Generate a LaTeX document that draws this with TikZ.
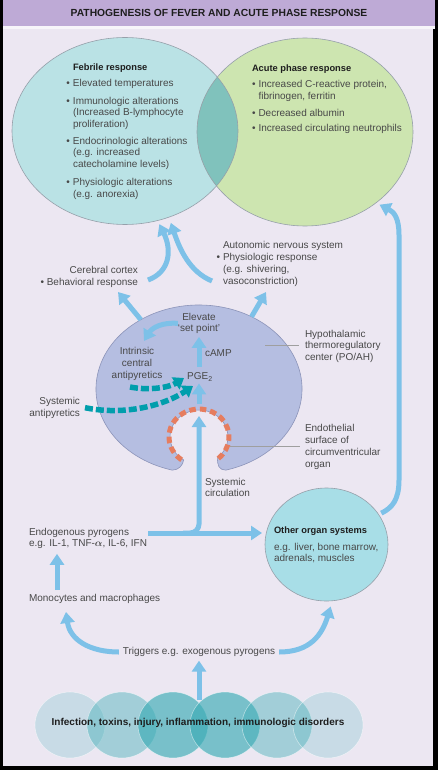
\documentclass[tikz,border=0pt]{standalone}
\usepackage{fontspec}
\setmainfont{Liberation Sans}
\usepackage{tikz}
\usetikzlibrary{calc}
\usetikzlibrary{arrows.meta}
\usetikzlibrary{shapes.geometric}
\usetikzlibrary{positioning}
\definecolor{mytitlepurple}{RGB}{190,170,214}
\definecolor{mybackground}{RGB}{236,231,242}
\definecolor{myfebrile}{RGB}{186,226,229}
\definecolor{myacute}{RGB}{205,229,176}
\definecolor{myoverlap}{RGB}{128,194,188}
\definecolor{myhypo}{RGB}{181,190,225}
\definecolor{myhypoline}{RGB}{140,148,185}
\definecolor{myarrowblue}{RGB}{125,193,232}
\definecolor{myteal}{RGB}{0,158,172}
\definecolor{myorange}{RGB}{230,125,95}
\definecolor{myorgan}{RGB}{168,222,231}
\definecolor{mybubble}{RGB}{60,172,182}
\definecolor{myoutline}{RGB}{150,160,170}
\definecolor{mytext}{RGB}{72,72,72}
\definecolor{myhead}{RGB}{30,30,30}
\tikzset{
  feverarrow/.style={line width=5pt, draw=myarrowblue, -{Triangle[width=14pt,length=11pt]}},
  feverdash/.style={line width=5.5pt, draw=myteal, dash pattern=on 8pt off 3pt, -{Triangle[width=14pt,length=10pt]}},
  feverblob/.style args={#1,#2}{shape=ellipse, minimum width=#1, minimum height=#2},
  fevertext/.style={text=mytext, font=\fontsize{10}{11.5}\selectfont},
  feverleader/.style={draw=gray!75, line width=0.5pt}
}
\newcommand\feverhead[1]{{\fontsize{9.3}{11.5}\selectfont\bfseries\color{myhead}#1}}
\newcommand\feverbullet{\llap{\textbullet\hspace{3pt}}}

\begin{document}
\begin{tikzpicture}[x=1pt, y=1pt, every node/.style={inner sep=0mm, outer sep=0mm}]
\useasboundingbox (0,0) rectangle (438,-770);
% frame and title band
\fill[black] (0,0) rectangle (438,-770);
\fill[mytitlepurple] (3,0) rectangle (435,-26);
\fill[white!60!mybackground] (3,-26) rectangle (435,-29);
\fill[mybackground] (3,-29) rectangle (433,-766);
\node[font=\fontsize{10.3}{12}\selectfont\bfseries, text=myhead] (title) at (219,-13) {PATHOGENESIS OF FEVER AND ACUTE PHASE RESPONSE};

% the two responses
\node[feverblob={226pt,187pt}, fill=myfebrile] (febrile) at (125,-131) {};
\node[feverblob={216pt,188pt}, fill=myacute] (acute) at (305,-132) {};
\begin{scope}
  \clip (febrile.center) ellipse [x radius=113, y radius=93.5];
  \fill[myoverlap] (acute.center) ellipse [x radius=108, y radius=94];
\end{scope}
\draw[myoutline, line width=0.6pt] (febrile.center) ellipse [x radius=113, y radius=93.5];
\draw[myoutline, line width=0.6pt] (acute.center) ellipse [x radius=108, y radius=94];

\node[fevertext, anchor=north west, align=left] (febriletext) at (73,-64) {\feverhead{Febrile response}\\[4.5pt]
\feverbullet Elevated temperatures\\[6pt]
\feverbullet Immunologic alterations\\(Increased B-lymphocyte\\proliferation)\\[5.5pt]
\feverbullet Endocrinologic alterations\\(e.g. increased\\catecholamine levels)\\[7pt]
\feverbullet Physiologic alterations\\(e.g. anorexia)};
\node[fevertext, anchor=north west, align=left, font=\fontsize{10}{12}\selectfont] (acutetext) at (252,-64.5) {\feverhead{Acute phase response}\\[4.5pt]
\textbullet\hspace{3pt}Increased C-reactive protein,\\\hspace*{6.5pt}fibrinogen, ferritin\\[5pt]
\textbullet\hspace{3pt}Decreased albumin\\[3pt]
\textbullet\hspace{3pt}Increased circulating neutrophils};

% cortex and autonomic outputs
\node[fevertext, anchor=north east, align=right, font=\fontsize{10}{12}\selectfont] (cortex) at (138,-266) {Cerebral cortex\\\textbullet\ Behavioral response};
\node[fevertext, anchor=north west, align=left, font=\fontsize{10}{12}\selectfont] (autonomic) at (223,-241) {Autonomic nervous system\\\feverbullet Physiologic response\\(e.g. shivering,\\vasoconstriction)};
\coordinate (cortexout) at (148,-280);
\coordinate (autonomout) at (212,-281);
\draw[feverarrow, shorten >=4pt] (cortexout) .. controls (170,-272) and (172,-250) .. (febrile.-70);
\draw[feverarrow, shorten >=6pt] (autonomout) .. controls (190,-272) and (180,-250) .. (febrile.-63);

% hypothalamus
\node[feverblob={206pt,168pt}] (hypo) at (199,-389) {};
\coordinate (notch) at (199,-437);
\filldraw[fill=myhypo, draw=myhypoline, line width=0.6pt]
  (172.34,-470.14) arc[start angle=255, end angle=-75, x radius=103, y radius=84]
  .. controls (219,-470) and (217,-465) .. (217.64,-457.68)
  arc[start angle=-50, end angle=238, x radius=29, y radius=27]
  .. controls (183,-465) and (179,-470) .. (172.34,-470.14) -- cycle;
\draw[myorange, line width=5pt, dash pattern=on 6.5pt off 4pt] (218.28,-458.45) arc[start angle=-50, end angle=238, x radius=30, y radius=28];

\coordinate (cortexin) at (118,-292);
\coordinate (autonomin) at (266,-292);
\draw[feverarrow] (hypo.130) -- (cortexin);
\draw[feverarrow] (hypo.54) -- (autonomin);

\node[fevertext, align=center, anchor=north] (setpoint) at (199,-313) {Elevate\\`set point'};
\node[fevertext, anchor=north] (pge) at (200,-373) {PGE\textsubscript{2}};
\node[fevertext, anchor=west] (camp) at (205,-353) {cAMP};
\node[fevertext, align=center, anchor=north, font=\fontsize{10}{12}\selectfont] (intrinsic) at (137,-347) {Intrinsic\\central\\antipyretics};
\draw[feverarrow, shorten <=6pt, shorten >=3pt] (pge.north -| setpoint.south) -- (setpoint.south);
\draw[feverarrow, shorten >=2pt] ($(notch)+(0,33)$) -- (pge.south -| notch);
\coordinate (setptip) at (144,-341);
\draw[feverarrow] (setpoint.west) .. controls (162,-322) and (152,-328) .. (setptip);

\node[fevertext, anchor=north east, align=right, font=\fontsize{10}{12}\selectfont] (sysanti) at (80,-397) {Systemic\\antipyretics};
\coordinate (intrinsicout) at (130,-387);
\coordinate (pgeleft) at (184,-378);
\coordinate (pgelow) at (193,-386);
\draw[feverdash] (intrinsicout) .. controls (150,-391) and (170,-387) .. (pgeleft);
\draw[feverdash] ([xshift=5pt]sysanti.east) .. controls (125,-416) and (165,-405) .. (pgelow);

\node[fevertext, anchor=north west, align=left, font=\fontsize{10}{11.7}\selectfont] (hypolabel) at (305,-330) {Hypothalamic\\thermoregulatory\\center (PO/AH)};
\coordinate (hypoleader) at (265,-345.5);
\draw[feverleader, shorten >=6pt] (hypoleader) -- (hypoleader -| hypolabel.west);
\node[fevertext, anchor=north west, align=left, font=\fontsize{10}{12}\selectfont] (endolabel) at (305,-424) {Endothelial\\surface of\\circumventricular\\organ};
\coordinate (ringleader) at (230,-446);
\draw[feverleader, shorten >=5pt] (ringleader) -- (ringleader -| endolabel.west);

% circulation
\node[fevertext, anchor=north west, align=left] (circlabel) at (205,-478) {Systemic\\circulation};
\node[fevertext, anchor=north west, align=left] (endo) at (29,-528) {Endogenous pyrogens\\e.g. IL-1, TNF-{\boldmath$\alpha$}, IL-6, IFN};
\node[feverblob={123pt,113pt}, fill=myorgan, draw=myoutline, line width=0.6pt] (organ) at (326.5,-544.5) {};
\node[fevertext, anchor=north west, align=left] (organtext) at (274,-527) {\feverhead{Other organ systems}\\[5pt]e.g. liver, bone marrow,\\adrenals, muscles};
\coordinate (endoout) at (148,-533);
\coordinate (junction) at (183,-533);
\coordinate (circtip) at ($(notch)+(0,21)$);
\draw[feverarrow, shorten >=3pt] (endoout) -- (endoout -| organ.west);
\draw[feverarrow, rounded corners=9pt] (junction) -| (circtip);
\draw[feverarrow, shorten <=3pt, shorten >=4pt] (organ.30) .. controls (392,-508) and (399,-500) .. (399,-480) -- (399,-235) .. controls (399,-218) and (394,-212) .. (acute.-45);

% triggers
\node[fevertext, anchor=north west] (mono) at (29,-594) {Monocytes and macrophages};
\draw[feverarrow] ([xshift=28pt,yshift=4pt]mono.north west) -- ([xshift=28pt,yshift=-5pt]endo.south west);
\node[fevertext, inner sep=4pt] (trig) at (199,-652) {Triggers e.g. exogenous pyrogens};
\coordinate (monoin) at (66,-612);
\draw[feverarrow] (trig.west) .. controls (90,-652) and (70,-640) .. (monoin);
\draw[feverarrow, shorten >=6pt] (trig.east) .. controls (310,-652) and (322,-635) .. (organ.-84);

\foreach \x/\op [count=\i] in {70/0.2,122/0.42,173/0.66,225/0.66,277/0.42,328/0.2}
  \node[feverblob={70pt,66pt}, fill=mybubble, fill opacity=\op, draw=white, draw opacity=0.5, line width=0.6pt] (bubble\i) at (\x,-725) {};
\node[font=\fontsize{10}{12}\selectfont\bfseries, text=myhead] (causes) at (198,-723) {Infection, toxins, injury, inflammation, immunologic disorders};
\coordinate (causesup) at (199,-700);
\draw[feverarrow] (causesup) -- (trig.south);
\end{tikzpicture}
\end{document}
